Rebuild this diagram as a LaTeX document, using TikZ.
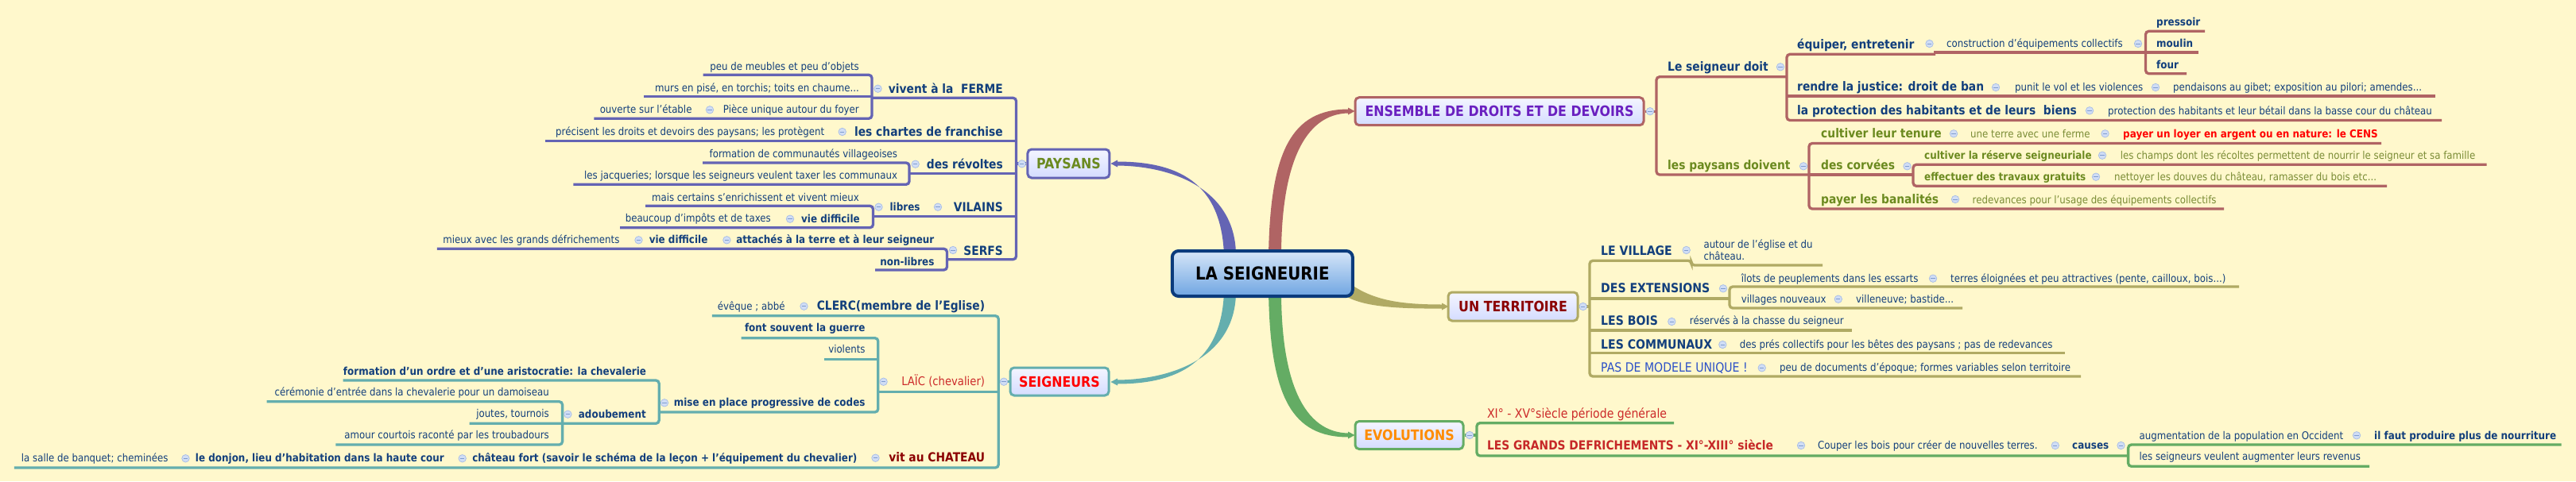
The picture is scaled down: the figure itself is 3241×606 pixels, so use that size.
\documentclass[tikz,border=0pt]{standalone}
\usepackage{fontspec}
\setmainfont{DejaVu Sans}[FakeStretch=0.88]
\definecolor{bg}{HTML}{FFF8CC}
\definecolor{tblue}{HTML}{123F7C}
\definecolor{olv}{HTML}{6B8A1F}
\definecolor{olvl}{HTML}{7A8C35}
\definecolor{redt}{HTML}{FF0000}
\definecolor{dred}{HTML}{8B0000}
\definecolor{laic}{HTML}{CC2A2A}
\definecolor{gdred}{HTML}{C62828}
\definecolor{purp}{HTML}{6A20C0}
\definecolor{orng}{HTML}{FF8C00}
\definecolor{pasblue}{HTML}{2B50C8}
\definecolor{lnP}{HTML}{6464B4}
\definecolor{lnS}{HTML}{64AEAE}
\definecolor{lnE}{HTML}{B06464}
\definecolor{lnT}{HTML}{B0AA64}
\definecolor{lnV}{HTML}{64AC64}
\definecolor{cfill}{HTML}{D0DDF5}
\definecolor{cdraw}{HTML}{A6BCE6}
\definecolor{cminus}{HTML}{7F9CCF}
\definecolor{boxtop}{HTML}{F4F5FF}
\definecolor{boxbot}{HTML}{D4DCFF}
\definecolor{roottop}{HTML}{D6E6F8}
\definecolor{rootbot}{HTML}{6FA5E2}
\definecolor{rootdraw}{HTML}{0B3B7C}
\newcommand\fN{\fontsize{13.4}{16}\selectfont}
\newcommand\fNB{\fontsize{16}{19}\selectfont}
\newcommand\fBS{\fontsize{13.6}{16}\selectfont\bfseries}
\newcommand\fBB{\fontsize{15.7}{19}\selectfont\bfseries}
\newcommand\fMain{\fontsize{18}{21}\selectfont\bfseries}
\newcommand\fRoot{\fontsize{22.5}{26}\selectfont\bfseries}
\tikzset{
 pr/.style={anchor=base west, inner sep=0pt},
 pl/.style={anchor=base east, inner sep=0pt},
 tn/.style={font=\fN, text=tblue},
 tnb/.style={font=\fNB},
 tbs/.style={font=\fBS, text=tblue},
 tbb/.style={font=\fBB, text=tblue},
 cb/.style={circle, draw=cdraw, fill=cfill, line width=0.7pt, minimum size=9.5pt, inner sep=0pt,
   path picture={\draw[cminus,line width=0.9pt] ([xshift=-2.6pt]path picture bounding box.center) -- ([xshift=2.6pt]path picture bounding box.center);}},
 lE/.style={draw=lnE, line width=3.3pt, rounded corners=4pt},
 lT/.style={draw=lnT, line width=3.3pt, rounded corners=4pt},
 lV/.style={draw=lnV, line width=3.3pt, rounded corners=4pt},
 lP/.style={draw=lnP, line width=3.3pt, rounded corners=4pt},
 lS/.style={draw=lnS, line width=3.3pt, rounded corners=4pt},
 mbox/.style={rounded corners=5pt, line width=3pt, top color=boxtop, bottom color=boxbot, inner sep=0pt, font=\fMain},
}
\begin{document}
\begin{tikzpicture}[x=1pt,y=-1pt]
\fill[bg] (0,0) rectangle (3241,606);
\useasboundingbox (0,0) rectangle (3241,606);

% ---------- tapered main connectors ----------
\fill[lnE] (1596,322) .. controls (1598,190) and (1625,137.5) .. (1697,137.5) -- (1697,142.5) .. controls (1640,143) and (1612,210) .. (1612,322) -- cycle;
\fill[lnE] (1696,135.5) -- (1704.5,140) -- (1696,144.5) -- cycle;
\fill[lnP] (1540,322) .. controls (1537,228) and (1480,203.5) .. (1405,203.5) -- (1405,208.5) .. controls (1478,209) and (1555,240) .. (1555,322) -- cycle;
\fill[lnP] (1406,201.5) -- (1397.5,206) -- (1406,210.5) -- cycle;
\fill[lnS] (1540,367) .. controls (1537,458) and (1480,483.5) .. (1405,483.5) -- (1405,478.5) .. controls (1478,478) and (1555,448) .. (1555,367) -- cycle;
\fill[lnS] (1406,476.5) -- (1397.5,481) -- (1406,485.5) -- cycle;
\fill[lnT] (1694,354) .. controls (1725,378) and (1760,383.5) .. (1815,383.5) -- (1815,388.5) .. controls (1755,389) and (1712,386) .. (1690,371) -- cycle;
\fill[lnT] (1814,381.5) -- (1822.5,386) -- (1814,390.5) -- cycle;
\fill[lnV] (1596,367) .. controls (1598,500) and (1625,550.5) .. (1697,550.5) -- (1697,545.5) .. controls (1640,545) and (1612,480) .. (1612,367) -- cycle;
\fill[lnV] (1696,543.5) -- (1704.5,548) -- (1696,552.5) -- cycle;

% ---------- main boxes ----------
\node[rounded corners=8pt, line width=4pt, draw=rootdraw, top color=roottop, bottom color=rootbot, minimum width=227pt, minimum height=57pt, inner sep=0pt, font=\fRoot, text=black] (root) at (1588.3,344.5) {LA SEIGNEURIE};
\node[mbox, draw=lnE, text=purp, minimum width=363pt, minimum height=35pt] (ens) at (1886.5,140.2) {ENSEMBLE DE DROITS ET DE DEVOIRS};
\node[mbox, draw=lnP, text=olv, minimum width=103pt, minimum height=36pt] (pay) at (1344.4,206) {PAYSANS};
\node[mbox, draw=lnS, text=redt, minimum width=124pt, minimum height=35pt] (seig) at (1333,480.5) {SEIGNEURS};
\node[mbox, draw=lnT, text=dred, minimum width=163pt, minimum height=36pt] (terr) at (1903.5,386) {UN TERRITOIRE};
\node[mbox, draw=lnV, text=orng, minimum width=136pt, minimum height=35pt] (evo) at (1773,548) {EVOLUTIONS};

% ---------- ENSEMBLE lines ----------
\draw[lE] (ens.east) -- (2084,140.2);
\draw[lE] (2248,96.7) -- (2084,96.7) -- (2084,220) -- (2276,220);
\draw[lE] (2435,68.3) -- (2248,68.3) -- (2248,151.5) -- (3072,151.5);
\draw[lE] (2433,66) -- (2766,66);
\draw[lE] (2774,39.3) -- (2699.5,39.3) -- (2699.5,92.7) -- (2751,92.7);
\draw[lE] (2248,121) -- (3064,121);
\draw[lE] (2996,180.5) -- (2276,180.5) -- (2276,263) -- (2798,263);
\draw[lE] (3128.6,207.3) -- (2407,207.3) -- (2407,234.3) -- (3003,234.3);
\draw[lE] (2276,220) -- (2407,220);

% ---------- TERRITOIRE lines ----------
\draw[lT] (terr.east) -- (2000,386);
\draw[lT] (2293,334) -- (2128,334) -- (2128,328.3) -- (2000,328.3) -- (2000,474) -- (2618,474);
\draw[lT] (2000,376) -- (2176,376);
\draw[lT] (2817,361) -- (2176,361) -- (2176,388) -- (2469,388);
\draw[lT] (2000,416) -- (2330,416);
\draw[lT] (2000,444.5) -- (2597.7,444.5);

% ---------- EVOLUTIONS lines ----------
\draw[lV] (evo.east) -- (1858,548);
\draw[lV] (2106,532.7) -- (1858,532.7) -- (1858,574) -- (2677.6,574);
\draw[lV] (3222.6,560) -- (2677.6,560) -- (2677.6,587.3) -- (2981,587.3);

% ---------- PAYSANS lines ----------
\draw[lP] (pay.west) -- (1278.5,206);
\draw[lP] (1097,123.3) -- (1278.5,123.3) -- (1278.5,326.7) -- (1191.5,326.7);
\draw[lP] (1278.5,177.3) -- (685.6,177.3);
\draw[lP] (1278.5,218.3) -- (1144,218.3);
\draw[lP] (1278.5,272.5) -- (1098.5,272.5);
\draw[lP] (884.6,94.3) -- (1097,94.3) -- (1097,149.3) -- (747.3,149.3);
\draw[lP] (1097,121.7) -- (809.5,121.7);
\draw[lP] (884,205) -- (1144,205) -- (1144,232.3) -- (721.4,232.3);
\draw[lP] (812,259.3) -- (1098.5,259.3) -- (1098.5,286.7) -- (780,286.7);
\draw[lP] (549.8,313.3) -- (1191.5,313.3) -- (1191.5,340) -- (1101,340);

% ---------- SEIGNEURS lines ----------
\draw[lS] (seig.west) -- (1256.3,480.5);
\draw[lS] (895.8,397.7) -- (1256.3,397.7) -- (1256.3,589) -- (17.9,589);
\draw[lS] (1256.3,493.3) -- (1104.8,493.3);
\draw[lS] (932.6,425.7) -- (1104.8,425.7) -- (1104.8,519) -- (829.2,519);
\draw[lS] (1104.8,452.3) -- (1036.8,452.3);
\draw[lS] (431.7,479) -- (829.2,479) -- (829.2,533.3) -- (590.6,533.3);
\draw[lS] (335.7,505.7) -- (707.6,505.7) -- (707.6,560) -- (422.3,560);

% ---------- ENSEMBLE texts ----------
\node[pr,tbb] (e1) at (2098,89.7) {Le seigneur doit};
\node[pr,tbb] (e11) at (2261,61.3) {équiper, entretenir};
\node[pr,tn] (e111) at (2449,59.5) {construction d'équipements collectifs};
\node[pr,tbs] (e1111) at (2713,32.5) {pressoir};
\node[pr,tbs] (e1112) at (2713,59) {moulin};
\node[pr,tbs] (e1113) at (2713,86) {four};
\node[pr,tbb] (e12) at (2261,114) {rendre la justice: droit de ban};
\node[pr,tn] (e121) at (2535,114) {punit le vol et les violences};
\node[pr,tn] (e1211) at (2734,114) {pendaisons au gibet; exposition au pilori; amendes...};
\node[pr,tbb] (e13) at (2261,144.5) {la protection des habitants et de leurs\ \ biens};
\node[pr,tn] (e131) at (2652,144) {protection des habitants et leur bétail dans la basse cour du château};
\node[pr,tbb,text=olv] (e2) at (2098,213.5) {les paysans doivent};
\node[pr,tbb,text=olv] (e21) at (2291,173.5) {cultiver leur tenure};
\node[pr,tn,text=olvl] (e211) at (2479,173) {une terre avec une ferme};
\node[pr,tbs,text=redt] (e2111) at (2671,173) {payer un loyer en argent ou en nature: le CENS};
\node[pr,tbb,text=olv] (e22) at (2291,213.5) {des corvées};
\node[pr,tbs,text=olv] (e221) at (2421,200.5) {cultiver la réserve seigneuriale};
\node[pr,tn,text=olvl] (e2211) at (2667.6,200.5) {les champs dont les récoltes permettent de nourrir le seigneur et sa famille};
\node[pr,tbs,text=olv] (e222) at (2421,227.5) {effectuer des travaux gratuits};
\node[pr,tn,text=olvl] (e2221) at (2660,227.5) {nettoyer les douves du château, ramasser du bois etc...};
\node[pr,tbb,text=olv] (e23) at (2291,256) {payer les banalités};
\node[pr,tn,text=olvl] (e231) at (2481.5,256) {redevances pour l'usage des équipements collectifs};

% ---------- TERRITOIRE texts ----------
\node[pr,tbb,font=\fontsize{16}{19}\selectfont\bfseries] (t1) at (2014,321) {LE VILLAGE};
\node[pr,tn] (t11a) at (2143.3,312) {autour de l'église et du};
\node[pr,tn] (t11b) at (2143.3,327) {château.};
\node[pr,tbb,font=\fontsize{16}{19}\selectfont\bfseries] (t2) at (2014,368) {DES EXTENSIONS};
\node[pr,tn] (t21) at (2190.6,355) {îlots de peuplements dans les essarts};
\node[pr,tn] (t211) at (2454,355) {terres éloignées et peu attractives (pente, cailloux, bois...)};
\node[pr,tn] (t22) at (2190.6,381) {villages nouveaux};
\node[pr,tn] (t221) at (2335,381) {villeneuve; bastide...};
\node[pr,tbb,font=\fontsize{16}{19}\selectfont\bfseries] (t3) at (2014,409.5) {LES BOIS};
\node[pr,tn] (t31) at (2125.7,408.5) {réservés à la chasse du seigneur};
\node[pr,tbb,font=\fontsize{16}{19}\selectfont\bfseries] (t4) at (2014,439) {LES COMMUNAUX};
\node[pr,tn] (t41) at (2188.7,438) {des prés collectifs pour les bêtes des paysans ; pas de redevances};
\node[pr,tnb,text=pasblue] (t5) at (2014,468.5) {PAS DE MODELE UNIQUE !};
\node[pr,tn] (t51) at (2239,467) {peu de documents d'époque; formes variables selon territoire};

% ---------- EVOLUTIONS texts ----------
\node[pr,tnb,text=laic] (v1) at (1870.8,526) {XI° - XV°siècle période générale};
\node[pr,tbb,text=gdred] (v2) at (1870.8,566.5) {LES GRANDS DEFRICHEMENTS - XI°-XIII° siècle};
\node[pr,tn] (v21) at (2287,565.5) {Couper les bois pour créer de nouvelles terres.};
\node[pr,tbs] (v211) at (2607,565.5) {causes};
\node[pr,tn] (v2111) at (2691.4,553) {augmentation de la population en Occident};
\node[pr,tbs] (v21111) at (2987,553) {il faut produire plus de nourriture};
\node[pr,tn] (v2112) at (2691.4,579.5) {les seigneurs veulent augmenter leurs revenus};

% ---------- PAYSANS texts ----------
\node[pl,tbb] (p1) at (1262,117) {vivent à la\ \ FERME};
\node[pl,tn] (p11) at (1081,88.5) {peu de meubles et peu d'objets};
\node[pl,tn] (p12) at (1081,115.5) {murs en pisé, en torchis; toits en chaume...};
\node[pl,tn] (p13) at (1081,142) {Pièce unique autour du foyer};
\node[pl,tn] (p131) at (870.7,142) {ouverte sur l'étable};
\node[pl,tbb] (p2) at (1262,171.5) {les chartes de franchise};
\node[pl,tn] (p21) at (1037.3,170.5) {précisent les droits et devoirs des paysans; les protègent};
\node[pl,tbb] (p3) at (1262,212) {des révoltes};
\node[pl,tn] (p31) at (1129.3,198) {formation de communautés villageoises};
\node[pl,tn] (p32) at (1129.3,225.5) {les jacqueries; lorsque les seigneurs veulent taxer les communaux};
\node[pl,tbb] (p4) at (1262,266.5) {VILAINS};
\node[pl,tbs] (p41) at (1157.7,265) {libres};
\node[pl,tn] (p411) at (1081,253) {mais certains s'enrichissent et vivent mieux};
\node[pl,tbs] (p412) at (1082,280) {vie difficile};
\node[pl,tn] (p4121) at (970,279.5) {beaucoup d'impôts et de taxes};
\node[pl,tbb] (p5) at (1262,321) {SERFS};
\node[pl,tbs] (p51) at (1175.6,306.5) {attachés à la terre et à leur seigneur};
\node[pl,tbs] (p511) at (890.6,306.5) {vie difficile};
\node[pl,tn] (p5111) at (779.6,306) {mieux avec les grands défrichements};
\node[pl,tbs] (p52) at (1175.6,334) {non-libres};

% ---------- SEIGNEURS texts ----------
\node[pl,tbb] (s1) at (1239.3,390.5) {CLERC(membre de l'Eglise)};
\node[pl,tn] (s11) at (987.7,390) {évêque ; abbé};
\node[pl,font=\fontsize{15}{18}\selectfont,text=laic] (s2) at (1239.3,485.5) {LAÏC (chevalier)};
\node[pl,tbs] (s21) at (1088.7,417.5) {font souvent la guerre};
\node[pl,tn] (s22) at (1088.7,444.5) {violents};
\node[pl,tbs] (s23) at (1088.7,511.5) {mise en place progressive de codes};
\node[pl,tbs] (s231) at (813.2,472) {formation d'un ordre et d'une aristocratie: la chevalerie};
\node[pl,tbs] (s232) at (813,526) {adoubement};
\node[pl,tn] (s2321) at (691,498.5) {cérémonie d'entrée dans la chevalerie pour un damoiseau};
\node[pl,tn] (s2322) at (691,525.5) {joutes, tournois};
\node[pl,tn] (s2323) at (691,552) {amour courtois raconté par les troubadours};
\node[pl,tbb,text=dred] (s3) at (1239.3,581.5) {vit au CHATEAU};
\node[pl,tbs] (s31) at (1078.6,581.5) {château fort (savoir le schéma de la leçon + l'équipement du chevalier)};
\node[pl,tbs] (s311) at (559,581.5) {le donjon, lieu d'habitation dans la haute cour};
\node[pl,tn] (s3111) at (211.6,581) {la salle de banquet; cheminées};

% ---------- collapse buttons ----------
\foreach \p [count=\i] in {(2076,140.2),(2240,84.3),(2427.5,55),(2690,55),(2511,110),(2712,110),(2629,139.3),(2269,209.3),(2458,168.3),(2648.5,168.3),(2399.5,209.3),(2645,195.7),(2637,222.7),(2460,251)}
  \node[cb] (ce\i) at \p {};
\foreach \p [count=\i] in {(1991.7,386),(2121.7,315),(2168,363.3),(2432,350.7),(2312.8,376.7),(2103.3,405),(2167.3,434),(2216.7,463.3)}
  \node[cb] (ct\i) at \p {};
\foreach \p [count=\i] in {(1849,548),(2266,561),(2585.8,561),(2668.5,561),(2965,548.3)}
  \node[cb] (cv\i) at \p {};
\foreach \p [count=\i] in {(1285.7,206.3),(1104.5,111.7),(893,138.3),(1059.7,166),(1151.7,206.7),(1180,260.7),(1105.5,260.7),(994,275.7),(1199,315),(914.4,302.3),(803.5,302.3)}
  \node[cb] (cp\i) at \p {};
\foreach \p [count=\i] in {(1263,480.7),(1011.5,385.7),(1111.6,480.7),(836,507.3),(714.4,521.7),(1101.5,576.7),(581.7,577.3),(233.5,577.3)}
  \node[cb] (cs\i) at \p {};
\end{tikzpicture}
\end{document}
